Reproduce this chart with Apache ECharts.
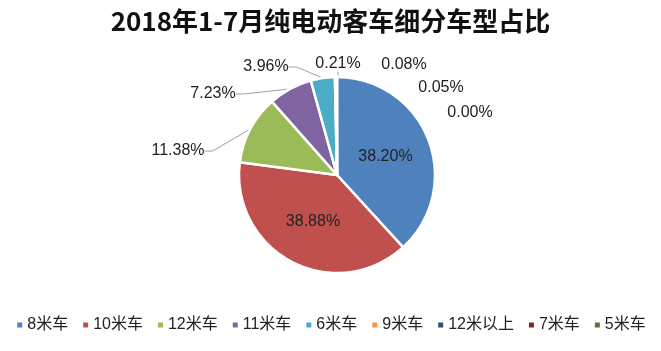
<!DOCTYPE html>
<html lang="zh">
<head>
<meta charset="UTF-8"/>
<script src="https://cdn.jsdelivr.net/npm/echarts@6/dist/echarts.min.js"></script>
<style>
  html, body { margin: 0; padding: 0; background: #fff; }
  #main { width: 661px; height: 351px; }
</style>
</head>
<body>
<div id="main"></div>
<script type="text/javascript">
    // 车型与占比（%）
    var categories = ['8米车', '10米车', '12米车', '11米车', '6米车', '9米车', '12米以上', '7米车', '5米车'];
    var shares = [38.20, 38.88, 11.38, 7.23, 3.96, 0.21, 0.08, 0.05, 0.00];
    var colors = ['#4F81BD', '#C0504D', '#9BBB59', '#8064A2', '#4BACC6', '#F79646', '#2C4D75', '#772C2A', '#5F7530'];

    // 外部标签位置（仿 Excel 布局）
    var labelSpots = {
        2: [178, 151], 3: [213, 94], 4: [266, 67], 5: [338, 64],
        6: [404, 65], 7: [441, 88], 8: [470, 113]
    };

    var pieData = categories.map(function (name, i) {
        var item = { name: name, value: shares[i] };
        if (i < 2) {
            item.label = { position: 'inside' };
            item.labelLine = { show: false };
        }
        if (i >= 6) {
            item.labelLine = { show: false };
        }
        return item;
    });

    var myChart = echarts.init(document.getElementById('main'));
    var options = {
        color: colors,
        animation: false,
        title: {
            text: '2018年1-7月纯电动客车细分车型占比',
            left: 'center',
            top: 3,
            textStyle: { fontSize: 26, fontWeight: 'bold', color: '#111', fontFamily: 'Noto Sans CJK SC' }
        },
        legend: {
            bottom: 13,
            left: 'center',
            itemWidth: 7,
            itemHeight: 7,
            itemGap: 13,
            icon: 'rect',
            textStyle: { fontSize: 16, color: '#222', padding: [0, 0, 0, -1], fontFamily: 'Liberation Sans, Noto Sans CJK SC' },
            data: categories
        },
        series: [{
            type: 'pie',
            center: [337, 175],
            radius: [0, 98],
            startAngle: 90,
            clockwise: true,
            avoidLabelOverlap: false,
            itemStyle: { borderColor: '#fff', borderWidth: 2.5 },
            label: {
                show: true,
                formatter: function (p) { return p.value.toFixed(2) + '%'; },
                fontSize: 16,
                fontFamily: 'Liberation Sans',
                color: '#222'
            },
            labelLine: {
                show: true,
                length: 8,
                length2: 8,
                lineStyle: { color: '#a0a0a0', width: 1 }
            },
            labelLayout: function (params) {
                var spot = labelSpots[params.dataIndex];
                if (!spot) return {};
                return { x: spot[0], y: spot[1], align: 'center', verticalAlign: 'middle' };
            },
            data: pieData
        }]
    };
    myChart.setOption(options);
</script>
</body>
</html>
